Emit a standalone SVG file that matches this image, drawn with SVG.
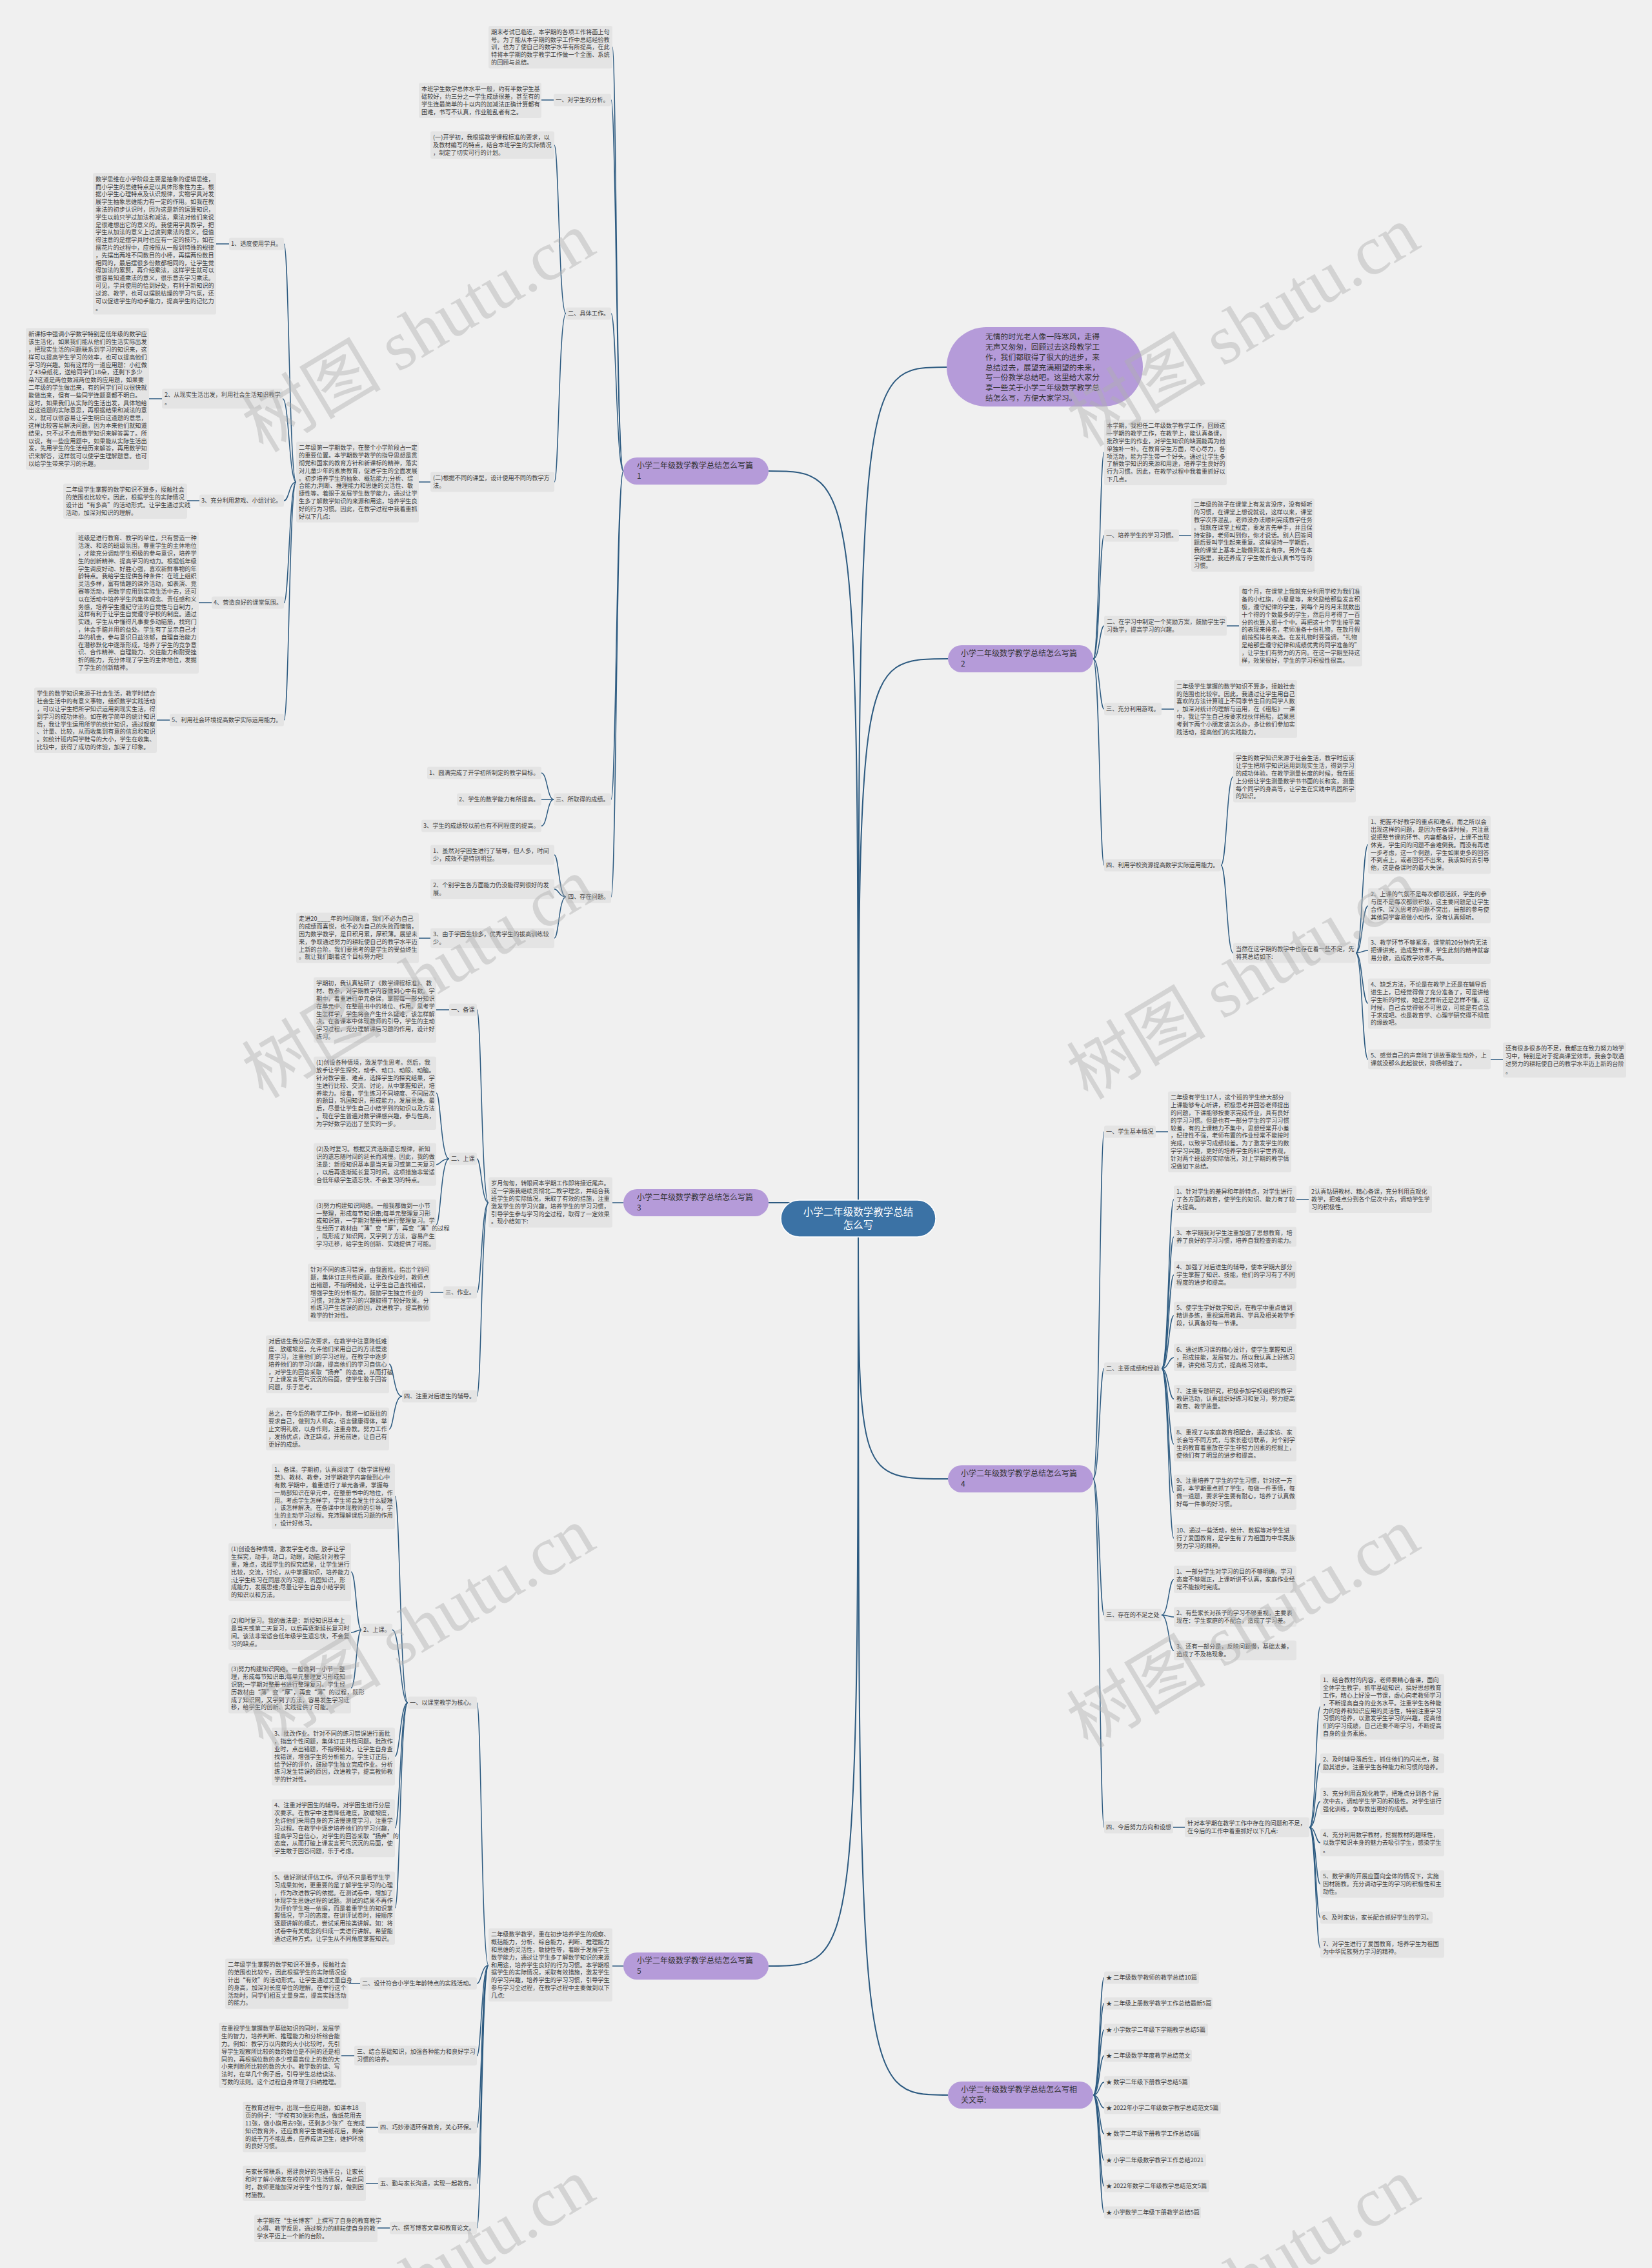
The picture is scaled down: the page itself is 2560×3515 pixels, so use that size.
<svg xmlns="http://www.w3.org/2000/svg" width="2560" height="3515" viewBox="0 0 2560 3515">
<defs><style>
.t{font-family:"Noto Sans CJK SC","Noto Sans",sans-serif;font-size:9.2px;fill:#3c3c3c}
.b{fill:#e4e4e4}
.c{fill:none;stroke:#2c5a80;stroke-width:1.5}
.c2{fill:none;stroke:#2c5a80;stroke-width:2}
.p{fill:#b59bd9}
.pt{font-family:"Noto Sans CJK SC","Noto Sans",sans-serif;font-size:12px;fill:#333}
.it{font-family:"Noto Sans CJK SC","Noto Sans",sans-serif;font-size:11.8px;fill:#333}
.ct{font-family:"Noto Sans CJK SC","Noto Sans",sans-serif;font-size:15.5px;fill:#fff;text-anchor:middle}
.wm{font-family:"Liberation Serif","Noto Sans CJK SC",serif;font-size:108px;fill:#b0b0b0;fill-opacity:.45;text-anchor:middle}
</style></defs>
<rect width="2560" height="3515" fill="#f0f0f0"/>
<g id="connectors">
<path class="c2" d="M1330 1888C1330 730 1330 730 1191 730"/>
<path class="c2" d="M1330 1888C1330 569 1330 569 1467 569"/>
<path class="c2" d="M1330 1888C1330 1021 1330 1021 1469 1021"/>
<path class="c2" d="M1330 1864H1191"/>
<path class="c2" d="M1330 1888C1330 2292 1330 2292 1469 2292"/>
<path class="c2" d="M1330 1888C1330 3047 1330 3047 1191 3047"/>
<path class="c2" d="M1330 1888C1330 3247 1330 3247 1469 3247"/>
<path class="c" d="M966 730C955 730 955 73 949 73"/>
<path class="c" d="M966 730C955 730 955 155 947 155"/>
<path class="c" d="M966 730C955 730 955 486 947 486"/>
<path class="c" d="M966 730C955 730 955 1239 947 1239"/>
<path class="c" d="M966 730C955 730 955 1390 947 1390"/>
<path class="c" d="M858 155H839"/>
<path class="c" d="M877 486C866 486 866 225 859 225"/>
<path class="c" d="M877 486C866 486 866 747 859 747"/>
<path class="c" d="M667 747H649"/>
<path class="c" d="M459 747C448 747 448 378 440 378"/>
<path class="c" d="M459 747C448 747 448 618 438 618"/>
<path class="c" d="M459 747C448 747 448 776 440 776"/>
<path class="c" d="M459 747C448 747 448 934 440 934"/>
<path class="c" d="M459 747C448 747 448 1116 440 1116"/>
<path class="c" d="M355 378H335"/>
<path class="c" d="M251 618H231"/>
<path class="c" d="M309 776H290"/>
<path class="c" d="M328 934H308"/>
<path class="c" d="M263 1116H243"/>
<path class="c" d="M858 1239C848 1239 848 1198 839 1198"/>
<path class="c" d="M858 1239H839"/>
<path class="c" d="M858 1239C848 1239 848 1280 839 1280"/>
<path class="c" d="M877 1390C866 1390 866 1325 859 1325"/>
<path class="c" d="M877 1390C866 1390 866 1378 859 1378"/>
<path class="c" d="M877 1390C866 1390 866 1454 859 1454"/>
<path class="c" d="M667 1454H649"/>
<path class="c" d="M966 1864H949"/>
<path class="c" d="M757 1864C746 1864 746 1565 739 1565"/>
<path class="c" d="M757 1864C746 1864 746 1796 739 1796"/>
<path class="c" d="M757 1864C746 1864 746 2003 739 2003"/>
<path class="c" d="M757 1864C746 1864 746 2164 739 2164"/>
<path class="c" d="M696 1565H676"/>
<path class="c" d="M696 1796C683 1796 683 1694 676 1694"/>
<path class="c" d="M696 1796C683 1796 683 1805 676 1805"/>
<path class="c" d="M696 1796C683 1796 683 1898 676 1898"/>
<path class="c" d="M687 2003H667"/>
<path class="c" d="M623 2164C610 2164 610 2114 603 2114"/>
<path class="c" d="M623 2164C610 2164 610 2215 603 2215"/>
<path class="c" d="M966 3047H949"/>
<path class="c" d="M757 3046C746 3046 746 2639 739 2639"/>
<path class="c" d="M757 3046C746 3046 746 3074 739 3074"/>
<path class="c" d="M757 3046C746 3046 746 3186 739 3186"/>
<path class="c" d="M757 3046C746 3046 746 3297 739 3297"/>
<path class="c" d="M757 3046C746 3046 746 3384 739 3384"/>
<path class="c" d="M757 3046C746 3046 746 3453 739 3453"/>
<path class="c" d="M632 2639C620 2639 620 2319 612 2319"/>
<path class="c" d="M632 2639C620 2639 620 2526 608 2526"/>
<path class="c" d="M632 2639C620 2639 620 2722 612 2722"/>
<path class="c" d="M632 2639C620 2639 620 2833 612 2833"/>
<path class="c" d="M632 2639C620 2639 620 2957 612 2957"/>
<path class="c" d="M560 2526C552 2526 552 2436 544 2436"/>
<path class="c" d="M560 2526C552 2526 552 2530 544 2530"/>
<path class="c" d="M560 2526C552 2526 552 2616 544 2616"/>
<path class="c" d="M558 3074H540"/>
<path class="c" d="M549 3186H529"/>
<path class="c" d="M586 3297H567"/>
<path class="c" d="M586 3384H567"/>
<path class="c" d="M604 3453H585"/>
<path class="c" d="M1694 1021C1704 1021 1704 701 1711 701"/>
<path class="c" d="M1694 1021C1704 1021 1704 830 1711 830"/>
<path class="c" d="M1694 1021C1704 1021 1704 970 1711 970"/>
<path class="c" d="M1694 1021C1704 1021 1704 1099 1711 1099"/>
<path class="c" d="M1694 1021C1704 1021 1704 1341 1711 1341"/>
<path class="c" d="M1827 830H1846"/>
<path class="c" d="M1901 970H1920"/>
<path class="c" d="M1800 1099H1819"/>
<path class="c" d="M1892 1341C1901 1341 1901 1204 1911 1204"/>
<path class="c" d="M1892 1341C1901 1341 1901 1477 1911 1477"/>
<path class="c" d="M2101 1477C2111 1477 2111 1309 2120 1309"/>
<path class="c" d="M2101 1477C2111 1477 2111 1404 2120 1404"/>
<path class="c" d="M2101 1477C2111 1477 2111 1473 2120 1473"/>
<path class="c" d="M2101 1477C2111 1477 2111 1555 2120 1555"/>
<path class="c" d="M2101 1477C2111 1477 2111 1642 2120 1642"/>
<path class="c" d="M2310 1642H2329"/>
<path class="c" d="M1694 2292C1704 2292 1704 1754 1711 1754"/>
<path class="c" d="M1694 2292C1704 2292 1704 2121 1711 2121"/>
<path class="c" d="M1694 2292C1704 2292 1704 2503 1711 2503"/>
<path class="c" d="M1694 2292C1704 2292 1704 2832 1711 2832"/>
<path class="c" d="M1791 1754H1810"/>
<path class="c" d="M1800 2121C1811 2121 1811 1859 1819 1859"/>
<path class="c" d="M1800 2121C1811 2121 1811 1917 1819 1917"/>
<path class="c" d="M1800 2121C1811 2121 1811 1976 1819 1976"/>
<path class="c" d="M1800 2121C1811 2121 1811 2039 1819 2039"/>
<path class="c" d="M1800 2121C1811 2121 1811 2104 1819 2104"/>
<path class="c" d="M1800 2121C1811 2121 1811 2168 1819 2168"/>
<path class="c" d="M1800 2121C1811 2121 1811 2238 1819 2238"/>
<path class="c" d="M1800 2121C1811 2121 1811 2313 1819 2313"/>
<path class="c" d="M1800 2121C1811 2121 1811 2384 1819 2384"/>
<path class="c" d="M2009 1859H2028"/>
<path class="c" d="M1800 2503C1811 2503 1811 2448 1819 2448"/>
<path class="c" d="M1800 2503C1811 2503 1811 2506 1819 2506"/>
<path class="c" d="M1800 2503C1811 2503 1811 2558 1819 2558"/>
<path class="c" d="M1818 2832H1836"/>
<path class="c" d="M2029 2832C2039 2832 2039 2645 2046 2645"/>
<path class="c" d="M2029 2832C2039 2832 2039 2733 2046 2733"/>
<path class="c" d="M2029 2832C2039 2832 2039 2792 2046 2792"/>
<path class="c" d="M2029 2832C2039 2832 2039 2856 2046 2856"/>
<path class="c" d="M2029 2832C2039 2832 2039 2920 2046 2920"/>
<path class="c" d="M2029 2832C2039 2832 2039 2972 2046 2972"/>
<path class="c" d="M2029 2832C2039 2832 2039 3019 2046 3019"/>
<path class="c" d="M1694 3247C1704 3247 1704 3065 1711 3065"/>
<path class="c" d="M1694 3247C1704 3247 1704 3105 1711 3105"/>
<path class="c" d="M1694 3247C1704 3247 1704 3146 1711 3146"/>
<path class="c" d="M1694 3247C1704 3247 1704 3186 1711 3186"/>
<path class="c" d="M1694 3247C1704 3247 1704 3227 1711 3227"/>
<path class="c" d="M1694 3247C1704 3247 1704 3267 1711 3267"/>
<path class="c" d="M1694 3247C1704 3247 1704 3307 1711 3307"/>
<path class="c" d="M1694 3247C1704 3247 1704 3348 1711 3348"/>
<path class="c" d="M1694 3247C1704 3247 1704 3388 1711 3388"/>
<path class="c" d="M1694 3247C1704 3247 1704 3429 1711 3429"/>
</g>
<g id="center"><rect x="1210" y="1860" width="240" height="57" rx="28.5" fill="#3b72a5" stroke="#fff" stroke-width="1.5"/><text class="ct" x="1330" y="1883.5">小学二年级数学教学总结<tspan x="1330" dy="20">怎么写</tspan></text></g>
<g id="intro"><rect class="p" x="1467" y="507" width="304" height="123" rx="61"/><text class="it" x="1527" y="526.2">无情的时光老人像一阵寒风，走得<tspan x="1527" dy="15.8">无声又匆匆，回顾过去这段教学工</tspan><tspan x="1527" dy="15.8">作，我们都取得了很大的进步，来</tspan><tspan x="1527" dy="15.8">总结过去，展望充满期望的未来，</tspan><tspan x="1527" dy="15.8">写一份教学总结吧。这里给大家分</tspan><tspan x="1527" dy="15.8">享一些关于小学二年级数学教学总</tspan><tspan x="1527" dy="15.8">结怎么写，方便大家学习。</tspan></text></g>
<g id="b1"><rect class="p" x="966" y="709" width="225" height="42" rx="21"/><text class="pt" x="987" y="726">小学二年级数学教学总结怎么写篇<tspan x="987" dy="16">1</tspan></text></g>
<g id="b2"><rect class="p" x="1469" y="1000" width="225" height="42" rx="21"/><text class="pt" x="1489" y="1017">小学二年级数学教学总结怎么写篇<tspan x="1489" dy="16">2</tspan></text></g>
<g id="b3"><rect class="p" x="966" y="1843" width="225" height="42" rx="21"/><text class="pt" x="987" y="1860">小学二年级数学教学总结怎么写篇<tspan x="987" dy="16">3</tspan></text></g>
<g id="b4"><rect class="p" x="1469" y="2271" width="225" height="42" rx="21"/><text class="pt" x="1489" y="2288">小学二年级数学教学总结怎么写篇<tspan x="1489" dy="16">4</tspan></text></g>
<g id="b5"><rect class="p" x="966" y="3026" width="225" height="42" rx="21"/><text class="pt" x="987" y="3043">小学二年级数学教学总结怎么写篇<tspan x="987" dy="16">5</tspan></text></g>
<g id="b6"><rect class="p" x="1469" y="3226" width="225" height="42" rx="21"/><text class="pt" x="1489" y="3243">小学二年级数学教学总结怎么写相<tspan x="1489" dy="16">关文章:</tspan></text></g>
<g id="n1a"><rect class="b" x="757" y="40" width="192" height="66.2" rx="3"/><text class="t" x="761" y="52.8">期末考试已临近，本学期的各项工作将画上句<tspan x="761" dy="11.8">号。为了能从本学期的数学工作中总结经验教</tspan><tspan x="761" dy="11.8">训，也为了使自己的数学水平有所提高，在此</tspan><tspan x="761" dy="11.8">特将本学期的数学教学工作做一个全面、系统</tspan><tspan x="761" dy="11.8">的回顾与总结。</tspan></text></g>
<g id="n1b"><rect class="b" x="858" y="145.5" width="89" height="19" rx="3"/><text class="t" x="861" y="158.3">一、对学生的分析。</text></g>
<g id="n1b1"><rect class="b" x="649" y="128.5" width="190" height="54.4" rx="3"/><text class="t" x="653" y="141.3">本班学生数学总体水平一般，约有半数学生基<tspan x="653" dy="11.8">础较好，约三分之一学生成绩很差，甚至有的</tspan><tspan x="653" dy="11.8">学生连最简单的十以内的加减法正确计算都有</tspan><tspan x="653" dy="11.8">困难，书写不认真，作业脏乱者有之。</tspan></text></g>
<g id="n1c"><rect class="b" x="877" y="476.5" width="70" height="19" rx="3"/><text class="t" x="880" y="489.3">二、具体工作。</text></g>
<g id="n1c1"><rect class="b" x="667" y="203.5" width="192" height="42.6" rx="3"/><text class="t" x="671" y="216.3">(一)开学初，我根据教学课程标准的要求，以<tspan x="671" dy="11.8">及教材编写的特点，结合本班学生的实际情况</tspan><tspan x="671" dy="11.8">，制定了切实可行的计划。</tspan></text></g>
<g id="n1c2"><rect class="b" x="667" y="731.5" width="192" height="30.8" rx="3"/><text class="t" x="671" y="744.3">(二)根据不同的课型，设计使用不同的教学方<tspan x="671" dy="11.8">法。</tspan></text></g>
<g id="n1c2a"><rect class="b" x="459" y="684.5" width="190" height="125.2" rx="3"/><text class="t" x="463" y="697.3">二年级第一学期数学，在整个小学阶段占一定<tspan x="463" dy="11.8">的重要位置。本学期数学教学的指导思想是贯</tspan><tspan x="463" dy="11.8">彻党和国家的教育方针和新课标的精神，落实</tspan><tspan x="463" dy="11.8">对儿童少年的素质教育，促进学生的全面发展</tspan><tspan x="463" dy="11.8">。初步培养学生的抽象、概括能力;分析、综</tspan><tspan x="463" dy="11.8">合能力;判断、推理能力和思维的灵活性、敏</tspan><tspan x="463" dy="11.8">捷性等。着眼于发展学生数学能力，通过让学</tspan><tspan x="463" dy="11.8">生多了解数学知识的来源和用途，培养学生良</tspan><tspan x="463" dy="11.8">好的行为习惯。因此，在教学过程中我着重抓</tspan><tspan x="463" dy="11.8">好以下几点:</tspan></text></g>
<g id="n1i1"><rect class="b" x="355" y="368.5" width="85" height="19" rx="3"/><text class="t" x="358" y="381.3">1、适度使用学具。</text></g>
<g id="n1i1a"><rect class="b" x="144" y="268" width="191" height="219.6" rx="3"/><text class="t" x="148" y="280.8">数学思维在小学阶段主要是抽象的逻辑思维，<tspan x="148" dy="11.8">而小学生的思维特点是以具体形象性为主。根</tspan><tspan x="148" dy="11.8">据小学生心理特点及认识规律，实物学具对发</tspan><tspan x="148" dy="11.8">展学生抽象思维能力有一定的作用。如我在教</tspan><tspan x="148" dy="11.8">乘法的初步认识时，因为这是新的运算知识，</tspan><tspan x="148" dy="11.8">学生以前只学过加法和减法，乘法对他们来说</tspan><tspan x="148" dy="11.8">是很难想出它的意义的。我使用学具教学，把</tspan><tspan x="148" dy="11.8">学生从加法的意义上过渡到乘法的意义。但值</tspan><tspan x="148" dy="11.8">得注意的是摆学具时也应有一定的技巧，如在</tspan><tspan x="148" dy="11.8">摆花片的过程中，应按照从一般到特殊的规律</tspan><tspan x="148" dy="11.8">，先摆出两堆不同数目的小棒，再摆两份数目</tspan><tspan x="148" dy="11.8">相同的，最后摆很多份数都相同的，让学生觉</tspan><tspan x="148" dy="11.8">得加法的累赘，再介绍乘法，这样学生就可以</tspan><tspan x="148" dy="11.8">很容易知道乘法的意义，很乐意去学习乘法。</tspan><tspan x="148" dy="11.8">可见，学具使用的恰到好处，有利于新知识的</tspan><tspan x="148" dy="11.8">过渡、教学，也可以摆脱枯燥的学习气氛，还</tspan><tspan x="148" dy="11.8">可以促进学生的动手能力，提高学生的记忆力</tspan><tspan x="148" dy="11.8">。</tspan></text></g>
<g id="n1i2"><rect class="b" x="251" y="602.5" width="187" height="30.8" rx="3"/><text class="t" x="255" y="615.3">2、从现实生活出发，利用社会生活知识教学<tspan x="255" dy="11.8">。</tspan></text></g>
<g id="n1i2a"><rect class="b" x="40" y="508.5" width="191" height="219.6" rx="3"/><text class="t" x="44" y="521.3">新课标中强调小学数学特别是低年级的数学应<tspan x="44" dy="11.8">该生活化，如果我们能从他们的生活实际出发</tspan><tspan x="44" dy="11.8">，把现实生活的问题联系到学习的知识来，这</tspan><tspan x="44" dy="11.8">样可以提高学生学习的效率，也可以提高他们</tspan><tspan x="44" dy="11.8">学习的兴趣。如有这样的一道应用题：小红做</tspan><tspan x="44" dy="11.8">了43朵纸花，送给同学们18朵，还剩下多少</tspan><tspan x="44" dy="11.8">朵?这道是两位数减两位数的应用题，如果要</tspan><tspan x="44" dy="11.8">二年级的学生做出来，有的同学们可以很快就</tspan><tspan x="44" dy="11.8">能做出来，但有一些同学连题意都不明白。</tspan><tspan x="44" dy="11.8">这时，如果我们从实际的生活出发，具体地给</tspan><tspan x="44" dy="11.8">出这道题的实际意思，再根据结果和减法的意</tspan><tspan x="44" dy="11.8">义，就可以很容易让学生明白这道题的意思，</tspan><tspan x="44" dy="11.8">这样比较容易解决问题，因为本来他们就知道</tspan><tspan x="44" dy="11.8">结果，只不过不会用数学知识来解答罢了。所</tspan><tspan x="44" dy="11.8">以说，有一些应用题中，如果能从实际生活出</tspan><tspan x="44" dy="11.8">发，先用学生的生活经历来解答，再用数学知</tspan><tspan x="44" dy="11.8">识来解答，这样就可以使学生理解题意。也可</tspan><tspan x="44" dy="11.8">以给学生带来学习的乐趣。</tspan></text></g>
<g id="n1i3"><rect class="b" x="309" y="766.5" width="131" height="19" rx="3"/><text class="t" x="312" y="779.3">3、充分利用游戏、小组讨论。</text></g>
<g id="n1i3a"><rect class="b" x="98" y="749.5" width="192" height="54.4" rx="3"/><text class="t" x="102" y="762.3">二年级学生掌握的数学知识不算多，接触社会<tspan x="102" dy="11.8">的范围也比较窄。因此，根据学生的实际情况</tspan><tspan x="102" dy="11.8">设计出“有多高”的活动形式。让学生通过实践</tspan><tspan x="102" dy="11.8">活动，加深对知识的理解。</tspan></text></g>
<g id="n1i4"><rect class="b" x="328" y="924.5" width="112" height="19" rx="3"/><text class="t" x="331" y="937.3">4、营造良好的课堂氛围。</text></g>
<g id="n1i4a"><rect class="b" x="117" y="824.5" width="191" height="219.6" rx="3"/><text class="t" x="121" y="837.3">班级是进行教育、教学的单位，只有营造一种<tspan x="121" dy="11.8">活泼、和谐的班级氛围，尊重学生的主体地位</tspan><tspan x="121" dy="11.8">，才能充分调动学生积极的参与意识，培养学</tspan><tspan x="121" dy="11.8">生的创新精神、提高学习的动力。根据低年级</tspan><tspan x="121" dy="11.8">学生调皮好动、好胜心强，喜欢新鲜事物的年</tspan><tspan x="121" dy="11.8">龄特点。我给学生提供各种条件：在班上组织</tspan><tspan x="121" dy="11.8">灵活多样，富有情趣的课外活动，如表演、竞</tspan><tspan x="121" dy="11.8">赛等活动，把数学应用到实际生活中去，还可</tspan><tspan x="121" dy="11.8">以在活动中培养学生的集体观念、责任感和义</tspan><tspan x="121" dy="11.8">务感，培养学生遵纪守法的自觉性与自制力，</tspan><tspan x="121" dy="11.8">这样有利于让学生自觉遵守学校的制度。通过</tspan><tspan x="121" dy="11.8">实践，学生从中懂得凡事要多动脑筋，找窍门</tspan><tspan x="121" dy="11.8">，体会手脑并用的益处。学生有了显示自己才</tspan><tspan x="121" dy="11.8">华的机会，参与意识日益浓郁，自理自治能力</tspan><tspan x="121" dy="11.8">在潜移默化中逐渐形成，培养了学生的竞争意</tspan><tspan x="121" dy="11.8">识、合作精神、自理能力、交往能力和耐受挫</tspan><tspan x="121" dy="11.8">折的能力，充分体现了学生的主体地位，发掘</tspan><tspan x="121" dy="11.8">了学生的创新精神。</tspan></text></g>
<g id="n1i5"><rect class="b" x="263" y="1106.5" width="177" height="19" rx="3"/><text class="t" x="266" y="1119.3">5、利用社会环境提高数学实际运用能力。</text></g>
<g id="n1i5a"><rect class="b" x="53" y="1065.5" width="190" height="101.6" rx="3"/><text class="t" x="57" y="1078.3">学生的数学知识来源于社会生活，教学时结合<tspan x="57" dy="11.8">社会生活中的有意义事物，组织数学实践活动</tspan><tspan x="57" dy="11.8">，可以让学生把所学知识运用到现实生活，得</tspan><tspan x="57" dy="11.8">到学习的成功体验。如在教学简单的统计知识</tspan><tspan x="57" dy="11.8">后，我让学生运用所学的统计知识，通过观察</tspan><tspan x="57" dy="11.8">、计量、比较，从而收集到有意的信息和知识</tspan><tspan x="57" dy="11.8">。如统计班内同学鞋号的大小，学生在收集、</tspan><tspan x="57" dy="11.8">比较中，获得了成功的体验，加深了印象。</tspan></text></g>
<g id="n1d"><rect class="b" x="858" y="1229.5" width="89" height="19" rx="3"/><text class="t" x="861" y="1242.3">三、所取得的成绩。</text></g>
<g id="n1d1"><rect class="b" x="662" y="1188.5" width="177" height="19" rx="3"/><text class="t" x="665" y="1201.3">1、圆满完成了开学初所制定的教学目标。</text></g>
<g id="n1d2"><rect class="b" x="708" y="1229.5" width="131" height="19" rx="3"/><text class="t" x="711" y="1242.3">2、学生的数学能力有所提高。</text></g>
<g id="n1d3"><rect class="b" x="653" y="1270.5" width="186" height="19" rx="3"/><text class="t" x="656" y="1283.3">3、学生的成绩较以前也有不同程度的提高。</text></g>
<g id="n1e"><rect class="b" x="877" y="1380.5" width="70" height="19" rx="3"/><text class="t" x="880" y="1393.3">四、存在问题。</text></g>
<g id="n1e1"><rect class="b" x="667" y="1309.5" width="192" height="30.8" rx="3"/><text class="t" x="671" y="1322.3">1、虽然对学困生进行了辅导，但人多，时间<tspan x="671" dy="11.8">少，成效不是特别明显。</tspan></text></g>
<g id="n1e2"><rect class="b" x="667" y="1362.5" width="192" height="30.8" rx="3"/><text class="t" x="671" y="1375.3">2、个别学生各方面能力仍没能得到很好的发<tspan x="671" dy="11.8">展。</tspan></text></g>
<g id="n1e3"><rect class="b" x="667" y="1438.5" width="192" height="30.8" rx="3"/><text class="t" x="671" y="1451.3">3、由于学困生较多，优秀学生的拔高训练较<tspan x="671" dy="11.8">少。</tspan></text></g>
<g id="n1e3a"><rect class="b" x="459" y="1414.5" width="190" height="78" rx="3"/><text class="t" x="463" y="1427.3">走进20____年的时间隧道，我们不必为自己<tspan x="463" dy="11.8">的成绩而喜悦，也不必为自己的失败而懊恼，</tspan><tspan x="463" dy="11.8">因为数学教学，是日积月累，厚积薄。展望未</tspan><tspan x="463" dy="11.8">来，争取通过努力的耕耘使自己的教学水平迈</tspan><tspan x="463" dy="11.8">上新的台阶。我们要思考的是学生的受益终生</tspan><tspan x="463" dy="11.8">。就让我们朝着这个目标努力吧!</tspan></text></g>
<g id="n3a"><rect class="b" x="757" y="1824.5" width="192" height="78" rx="3"/><text class="t" x="761" y="1837.3">岁月匆匆，转眼间本学期工作即将接近尾声。<tspan x="761" dy="11.8">这一学期我继续贯彻北二教学理念，并结合我</tspan><tspan x="761" dy="11.8">班学生的实际情况，采取了有效的措施，注重</tspan><tspan x="761" dy="11.8">激发学生的学习兴趣，培养学生的学习习惯，</tspan><tspan x="761" dy="11.8">引导学生参与学习的全过程，取得了一定效果</tspan><tspan x="761" dy="11.8">。现小结如下:</tspan></text></g>
<g id="n3b"><rect class="b" x="696" y="1555.5" width="43" height="19" rx="3"/><text class="t" x="699" y="1568.3">一、备课</text></g>
<g id="n3b1"><rect class="b" x="486" y="1514.5" width="190" height="101.6" rx="3"/><text class="t" x="490" y="1527.3">学期初，我认真钻研了《数学课程标准》、教<tspan x="490" dy="11.8">材、教参，对学期教学内容做到心中有数。学</tspan><tspan x="490" dy="11.8">期中，着重进行单元备课，掌握每一部分知识</tspan><tspan x="490" dy="11.8">在单元中、在整册书中的地位、作用。思考学</tspan><tspan x="490" dy="11.8">生怎样学，学生将会产生什么疑难，该怎样解</tspan><tspan x="490" dy="11.8">决。在备课本中体现教师的引导，学生的主动</tspan><tspan x="490" dy="11.8">学习过程，充分理解课后习题的作用，设计好</tspan><tspan x="490" dy="11.8">练习。</tspan></text></g>
<g id="n3c"><rect class="b" x="696" y="1786.5" width="43" height="19" rx="3"/><text class="t" x="699" y="1799.3">二、上课</text></g>
<g id="n3c1"><rect class="b" x="486" y="1637.5" width="190" height="113.4" rx="3"/><text class="t" x="490" y="1650.3">(1)创设各种情境，激发学生思考。然后，我<tspan x="490" dy="11.8">放手让学生探究，动手、动口、动眼、动脑。</tspan><tspan x="490" dy="11.8">针对教学重、难点，选择学生的探究结果，学</tspan><tspan x="490" dy="11.8">生进行比较、交流、讨论，从中掌握知识，培</tspan><tspan x="490" dy="11.8">养能力。接着，学生练习不同坡度、不同层次</tspan><tspan x="490" dy="11.8">的题目，巩固知识，形成能力，发展思维。最</tspan><tspan x="490" dy="11.8">后，尽量让学生自己小结学到的知识以及方法</tspan><tspan x="490" dy="11.8">。现在学生普遍对数学课感兴趣，参与性高，</tspan><tspan x="490" dy="11.8">为学好数学迈出了坚实的一步。</tspan></text></g>
<g id="n3c2"><rect class="b" x="486" y="1771.5" width="190" height="66.2" rx="3"/><text class="t" x="490" y="1784.3">(2)及时复习。根据艾宾浩斯遗忘规律，新知<tspan x="490" dy="11.8">识的遗忘随时间的延长而减慢。因此，我的做</tspan><tspan x="490" dy="11.8">法是：新授知识基本是当天复习或第二天复习</tspan><tspan x="490" dy="11.8">，以后再逐渐延长复习时间。这项措施非常适</tspan><tspan x="490" dy="11.8">合低年级学生遗忘快、不会复习的特点。</tspan></text></g>
<g id="n3c3"><rect class="b" x="486" y="1859" width="190" height="78" rx="3"/><text class="t" x="490" y="1871.8">(3)努力构建知识网络。一般我都做到一小节<tspan x="490" dy="11.8">一整理，形成每节知识串;每单元整理复习形</tspan><tspan x="490" dy="11.8">成知识链，一学期对整册书进行整理复习。学</tspan><tspan x="490" dy="11.8">生经历了教材由“薄”变“厚”，再变“薄”的过程</tspan><tspan x="490" dy="11.8">，既形成了知识网，又学到了方法，容易产生</tspan><tspan x="490" dy="11.8">学习迁移，给学生的创新、实践提供了可能。</tspan></text></g>
<g id="n3d"><rect class="b" x="687" y="1993.5" width="52" height="19" rx="3"/><text class="t" x="690" y="2006.3">三、作业。</text></g>
<g id="n3d1"><rect class="b" x="477" y="1958.5" width="190" height="89.8" rx="3"/><text class="t" x="481" y="1971.3">针对不同的练习错误，由我面批，指出个别问<tspan x="481" dy="11.8">题，集体订正共性问题。批改作业时，教师点</tspan><tspan x="481" dy="11.8">出错题，不指明错处，让学生自己查找错误，</tspan><tspan x="481" dy="11.8">增强学生的分析能力。鼓励学生独立作业的</tspan><tspan x="481" dy="11.8">习惯，对激发学习的兴趣取得了较好效果。分</tspan><tspan x="481" dy="11.8">析练习产生错误的原因，改进教学，提高教师</tspan><tspan x="481" dy="11.8">教学的针对性。</tspan></text></g>
<g id="n3e"><rect class="b" x="623" y="2154.5" width="116" height="19" rx="3"/><text class="t" x="626" y="2167.3">四、注重对后进生的辅导。</text></g>
<g id="n3e1"><rect class="b" x="412" y="2069.5" width="191" height="89.8" rx="3"/><text class="t" x="416" y="2082.3">对后进生我分层次要求，在教学中注意降低难<tspan x="416" dy="11.8">度、放缓坡度，允许他们采用自己的方法慢速</tspan><tspan x="416" dy="11.8">度学习，注重他们的学习过程。在教学中逐步</tspan><tspan x="416" dy="11.8">培养他们的学习兴趣，提高他们的学习自信心</tspan><tspan x="416" dy="11.8">，对学生的回答采取“扬弃”的态度，从而打破</tspan><tspan x="416" dy="11.8">了上课发言死气沉沉的局面，使学生敢于回答</tspan><tspan x="416" dy="11.8">问题，乐于思考。</tspan></text></g>
<g id="n3e2"><rect class="b" x="412" y="2181.5" width="191" height="66.2" rx="3"/><text class="t" x="416" y="2194.3">总之，在今后的教学工作中，我将一如既往的<tspan x="416" dy="11.8">要求自己，做到为人师表，语言健康得体，举</tspan><tspan x="416" dy="11.8">止文明礼貌，以身作则，注重身教。努力工作</tspan><tspan x="416" dy="11.8">，发扬优点，改正缺点，开拓前进，让自己有</tspan><tspan x="416" dy="11.8">更好的成绩。</tspan></text></g>
<g id="n5a"><rect class="b" x="757" y="2988.5" width="192" height="113.4" rx="3"/><text class="t" x="761" y="3001.3">二年级数学教学，重在初步培养学生的观察、<tspan x="761" dy="11.8">概括能力，分析、综合能力，判断、推理能力</tspan><tspan x="761" dy="11.8">和思维的灵活性，敏捷性等，着眼于发展学生</tspan><tspan x="761" dy="11.8">数学能力，通过让学生多了解数学知识的来源</tspan><tspan x="761" dy="11.8">和用途，培养学生良好的行为习惯。本学期根</tspan><tspan x="761" dy="11.8">据学生的实际情况，采取有效措施，激发学生</tspan><tspan x="761" dy="11.8">的学习兴趣，培养学生的学习习惯，引导学生</tspan><tspan x="761" dy="11.8">参与学习全过程，在教学过程中主要做到以下</tspan><tspan x="761" dy="11.8">几点:</tspan></text></g>
<g id="n5b"><rect class="b" x="632" y="2629.5" width="107" height="19" rx="3"/><text class="t" x="635" y="2642.3">一、以课堂教学为核心。</text></g>
<g id="n5b1"><rect class="b" x="421" y="2268.5" width="191" height="101.6" rx="3"/><text class="t" x="425" y="2281.3">1、备课。学期初，认真阅读了《数学课程规<tspan x="425" dy="11.8">范》、教材、教参，对学期教学内容做到心中</tspan><tspan x="425" dy="11.8">有数.学期中，着重进行了单元备课，掌握每</tspan><tspan x="425" dy="11.8">一局部知识在单元中，在整册书中的地位，作</tspan><tspan x="425" dy="11.8">用。考虑学生怎样学，学生将会发生什么疑难</tspan><tspan x="425" dy="11.8">，该怎样解决。在备课中体现教师的引导，学</tspan><tspan x="425" dy="11.8">生的主动学习过程。充沛理解课后习题的作用</tspan><tspan x="425" dy="11.8">，设计好练习。</tspan></text></g>
<g id="n5b2"><rect class="b" x="560" y="2516.5" width="48" height="19" rx="3"/><text class="t" x="563" y="2529.3">2、上课。</text></g>
<g id="n5b2a"><rect class="b" x="354" y="2391.5" width="190" height="89.8" rx="3"/><text class="t" x="358" y="2404.3">(1)创设各种情境，激发学生考虑。放手让学<tspan x="358" dy="11.8">生探究，动手，动口，动眼，动脑;针对教学</tspan><tspan x="358" dy="11.8">重，难点，选择学生的探究结果，让学生进行</tspan><tspan x="358" dy="11.8">比较，交流，讨论，从中掌握知识，培养能力</tspan><tspan x="358" dy="11.8">;让学生练习在同层次的习题，巩固知识，形</tspan><tspan x="358" dy="11.8">成能力，发展思维;尽量让学生自身小结学到</tspan><tspan x="358" dy="11.8">的知识以和方法。</tspan></text></g>
<g id="n5b2b"><rect class="b" x="354" y="2502.5" width="190" height="54.4" rx="3"/><text class="t" x="358" y="2515.3">(2)和时复习。我的做法是：新授知识基本上<tspan x="358" dy="11.8">是当天或第二天复习，以后再逐渐延长复习时</tspan><tspan x="358" dy="11.8">间。该法非常适合低年级学生遗忘快，不会复</tspan><tspan x="358" dy="11.8">习的缺点。</tspan></text></g>
<g id="n5b2c"><rect class="b" x="354" y="2577.5" width="190" height="78" rx="3"/><text class="t" x="358" y="2590.3">(3)努力构建知识网络。一般做到一小节一整<tspan x="358" dy="11.8">理，形成每节知识串;每单元整理复习形成知</tspan><tspan x="358" dy="11.8">识链;一学期对整册书进行整理复习。学生经</tspan><tspan x="358" dy="11.8">历教材由“薄”变“厚”，再变“薄”的过程，既形</tspan><tspan x="358" dy="11.8">成了知识网，又学到了方法，容易发生学习迁</tspan><tspan x="358" dy="11.8">移，给学生的创新、实践提供了可能。</tspan></text></g>
<g id="n5b3"><rect class="b" x="421" y="2677.5" width="191" height="89.8" rx="3"/><text class="t" x="425" y="2690.3">3、批改作业。针对不同的练习错误进行面批<tspan x="425" dy="11.8">，指出个性问题，集体订正共性问题。批改作</tspan><tspan x="425" dy="11.8">业时，点出错题，不指明错处，让学生自身查</tspan><tspan x="425" dy="11.8">找错误，增强学生的分析能力。学生订正后，</tspan><tspan x="425" dy="11.8">给予好的评价，鼓励学生独立完成作业。分析</tspan><tspan x="425" dy="11.8">练习发生错误的原因，改进教学，提高教师教</tspan><tspan x="425" dy="11.8">学的针对性。</tspan></text></g>
<g id="n5b4"><rect class="b" x="421" y="2788.5" width="191" height="89.8" rx="3"/><text class="t" x="425" y="2801.3">4、注重对学困生的辅导。对学困生进行分层<tspan x="425" dy="11.8">次要求。在教学中注意降低难度，放缓坡度，</tspan><tspan x="425" dy="11.8">允许他们采用自身的方法慢速度学习，注重学</tspan><tspan x="425" dy="11.8">习过程。在教学中逐步培养他们的学习兴趣，</tspan><tspan x="425" dy="11.8">提高学习自信心，对学生的回答采取“扬弃”的</tspan><tspan x="425" dy="11.8">态度，从而打破上课发言死气沉沉的局面，使</tspan><tspan x="425" dy="11.8">学生敢于回答问题，乐于考虑。</tspan></text></g>
<g id="n5b5"><rect class="b" x="421" y="2900.5" width="191" height="113.4" rx="3"/><text class="t" x="425" y="2913.3">5、做好测试评估工作。评估不只是看学生学<tspan x="425" dy="11.8">习成果如何，更重要的是了解学生学习的心理</tspan><tspan x="425" dy="11.8">，作为改进教学的依据。在测试卷中，增加了</tspan><tspan x="425" dy="11.8">体现学生思维过程的试题。测试的结果不再作</tspan><tspan x="425" dy="11.8">为评价学生唯一依据，而是着重学生的知识掌</tspan><tspan x="425" dy="11.8">握情况，学习的态度。在讲评试卷时，按顺序</tspan><tspan x="425" dy="11.8">逐题讲解的模式，尝试采用按类讲解。如：将</tspan><tspan x="425" dy="11.8">试卷中有关概念的归成一类进行讲解。希望能</tspan><tspan x="425" dy="11.8">通过这种方式，让学生从不同角度掌握知识。</tspan></text></g>
<g id="n5c"><rect class="b" x="558" y="3064.5" width="181" height="19" rx="3"/><text class="t" x="561" y="3077.3">二、设计符合小学生年龄特点的实践活动。</text></g>
<g id="n5c1"><rect class="b" x="349" y="3035.5" width="191" height="78" rx="3"/><text class="t" x="353" y="3048.3">二年级学生掌握的数学知识不算多，接触社会<tspan x="353" dy="11.8">的范围也比较窄，因此根据学生的实际情况设</tspan><tspan x="353" dy="11.8">计出“有效”的活动形式。让学生通过丈量自身</tspan><tspan x="353" dy="11.8">的身高，加深对长度单位的理解。在举行这个</tspan><tspan x="353" dy="11.8">活动时，同学们相互丈量身高，提高实践活动</tspan><tspan x="353" dy="11.8">的能力。</tspan></text></g>
<g id="n5d"><rect class="b" x="549" y="3170.5" width="190" height="30.8" rx="3"/><text class="t" x="553" y="3183.3">三、结合基础知识，加强各种能力和良好学习<tspan x="553" dy="11.8">习惯的培养。</tspan></text></g>
<g id="n5d1"><rect class="b" x="339" y="3134.5" width="190" height="101.6" rx="3"/><text class="t" x="343" y="3147.3">在重视学生掌握数学基础知识的同时，发展学<tspan x="343" dy="11.8">生的智力，培养判断、推理能力和分析综合能</tspan><tspan x="343" dy="11.8">力。例如：教学万以内数的大小比较时，先引</tspan><tspan x="343" dy="11.8">导学生观察所比较的数的数位是不同的还是相</tspan><tspan x="343" dy="11.8">同的，再根据位数的多少或最高位上的数的大</tspan><tspan x="343" dy="11.8">小来判断所比较的数的大小。教学数的读、写</tspan><tspan x="343" dy="11.8">法时，在举几个例子后，引导学生总结读法、</tspan><tspan x="343" dy="11.8">写数的法则。这个过程自身体现了归纳推理。</tspan></text></g>
<g id="n5e"><rect class="b" x="586" y="3287.5" width="153" height="19" rx="3"/><text class="t" x="589" y="3300.3">四、巧妙渗透环保教育，关心环保。</text></g>
<g id="n5e1"><rect class="b" x="376" y="3257.5" width="191" height="78" rx="3"/><text class="t" x="380" y="3270.3">在教育过程中，出现一些应用题，如课本18<tspan x="380" dy="11.8">页的例子：“学校有30张彩色纸，做纸花用去</tspan><tspan x="380" dy="11.8">11张，做小旗用去9张，还剩多少张?”在完成</tspan><tspan x="380" dy="11.8">知识教育外，还应教育学生做完纸花后，剩余</tspan><tspan x="380" dy="11.8">的纸千万不能乱丢，应养成讲卫生，维护环境</tspan><tspan x="380" dy="11.8">的良好习惯。</tspan></text></g>
<g id="n5f"><rect class="b" x="586" y="3374.5" width="153" height="19" rx="3"/><text class="t" x="589" y="3387.3">五、勤与家长沟通，实现一起教育。</text></g>
<g id="n5f1"><rect class="b" x="376" y="3356.5" width="191" height="54.4" rx="3"/><text class="t" x="380" y="3369.3">与家长常联系，搭建良好的沟通平台，让家长<tspan x="380" dy="11.8">和时了解小朋友在校的学习生活情况，与此同</tspan><tspan x="380" dy="11.8">时，教师更能加深对学生个性的了解，做到因</tspan><tspan x="380" dy="11.8">材施教。</tspan></text></g>
<g id="n5g"><rect class="b" x="604" y="3443.5" width="135" height="19" rx="3"/><text class="t" x="607" y="3456.3">六、撰写博客文章和教育论文。</text></g>
<g id="n5g1"><rect class="b" x="394" y="3432.5" width="191" height="42.6" rx="3"/><text class="t" x="398" y="3445.3">本学期在“生长博客”上撰写了自身的教育教学<tspan x="398" dy="11.8">心得、教学反思，通过努力的耕耘使自身的教</tspan><tspan x="398" dy="11.8">学水平迈上一个新的台阶。</tspan></text></g>
<g id="n2a"><rect class="b" x="1711" y="650.5" width="190" height="101.6" rx="3"/><text class="t" x="1715" y="663.3">本学期，我担任二年级数学教学工作，回顾这<tspan x="1715" dy="11.8">一学期的教学工作，在教学上，能认真备课，</tspan><tspan x="1715" dy="11.8">批改学生的作业，对学生知识的缺漏能再为他</tspan><tspan x="1715" dy="11.8">单独补一补。在教育学生方面，尽心尽力，各</tspan><tspan x="1715" dy="11.8">项活动，能为学生带一个好头。通过让学生多</tspan><tspan x="1715" dy="11.8">了解数学知识的来源和用途，培养学生良好的</tspan><tspan x="1715" dy="11.8">行为习惯。因此，在教学过程中我着重抓好以</tspan><tspan x="1715" dy="11.8">下几点。</tspan></text></g>
<g id="n2b"><rect class="b" x="1711" y="820.5" width="116" height="19" rx="3"/><text class="t" x="1714" y="833.3">一、培养学生的学习习惯。</text></g>
<g id="n2b1"><rect class="b" x="1846" y="772.5" width="191" height="113.4" rx="3"/><text class="t" x="1850" y="785.3">二年级的孩子在课堂上有发言没序，没有倾听<tspan x="1850" dy="11.8">的习惯，在课堂上想说就说，这样以来，课堂</tspan><tspan x="1850" dy="11.8">教学次序混乱，老师没办法顺利完成教学任务</tspan><tspan x="1850" dy="11.8">。我就在课堂上规定，要发言先举手，并且保</tspan><tspan x="1850" dy="11.8">持安静，老师叫到你，你才说话。别人回答问</tspan><tspan x="1850" dy="11.8">题后要叫学生起来重复。这样坚持一学期后，</tspan><tspan x="1850" dy="11.8">我的课堂上基本上能做到发言有序。另外在本</tspan><tspan x="1850" dy="11.8">学期里，我还养成了学生做作业认真书写等的</tspan><tspan x="1850" dy="11.8">习惯。</tspan></text></g>
<g id="n2c"><rect class="b" x="1711" y="954.5" width="190" height="30.8" rx="3"/><text class="t" x="1715" y="967.3">二、在学习中制定一个奖励方案，鼓励学生学<tspan x="1715" dy="11.8">习数学，提高学习的兴趣。</tspan></text></g>
<g id="n2c1"><rect class="b" x="1920" y="907.5" width="191" height="125.2" rx="3"/><text class="t" x="1924" y="920.3">每个月，在课堂上我就充分利用学校为我们准<tspan x="1924" dy="11.8">备的小红旗，小星星等，来奖励给那些发言积</tspan><tspan x="1924" dy="11.8">极，遵守纪律的学生，到每个月的月末就数出</tspan><tspan x="1924" dy="11.8">十个得的个数最多的学生，然后月考得了一百</tspan><tspan x="1924" dy="11.8">分的也算入那十个中。再把这十个学生按平常</tspan><tspan x="1924" dy="11.8">的表现来排名，老师准备十份礼物，在放月假</tspan><tspan x="1924" dy="11.8">前按照排名来选。在发礼物时要强调，“礼物</tspan><tspan x="1924" dy="11.8">是给那些遵守纪律和成绩优秀的同学准备的”</tspan><tspan x="1924" dy="11.8">，让学生们有努力的方向。在这一学期坚持这</tspan><tspan x="1924" dy="11.8">样，效果很好，学生的学习积极性很高。</tspan></text></g>
<g id="n2d"><rect class="b" x="1711" y="1089.5" width="89" height="19" rx="3"/><text class="t" x="1714" y="1102.3">三、充分利用游戏。</text></g>
<g id="n2d1"><rect class="b" x="1819" y="1054" width="191" height="89.8" rx="3"/><text class="t" x="1823" y="1066.8">二年级学生掌握的数学知识不算多，接触社会<tspan x="1823" dy="11.8">的范围也比较窄。因此，我通过让学生用自己</tspan><tspan x="1823" dy="11.8">喜欢的方法计算班上不同季节生日的同学人数</tspan><tspan x="1823" dy="11.8">，加深对统计的理解与运用，在《租船》一课</tspan><tspan x="1823" dy="11.8">中，我让学生自己按要求找伙伴搭船，结果思</tspan><tspan x="1823" dy="11.8">考剩下两个小朋友该怎么办，多让他们参加实</tspan><tspan x="1823" dy="11.8">践活动，提高他们的实践能力。</tspan></text></g>
<g id="n2e"><rect class="b" x="1711" y="1331.5" width="181" height="19" rx="3"/><text class="t" x="1714" y="1344.3">四、利用学校资源提高数学实际运用能力。</text></g>
<g id="n2e1"><rect class="b" x="1911" y="1165.5" width="190" height="78" rx="3"/><text class="t" x="1915" y="1178.3">学生的数学知识来源于社会生活，教学时应该<tspan x="1915" dy="11.8">让学生把所学知识运用到现实生活，得到学习</tspan><tspan x="1915" dy="11.8">的成功体验。在教学测量长度的时候，我在班</tspan><tspan x="1915" dy="11.8">上分组让学生测量数学书书面的长和宽，测量</tspan><tspan x="1915" dy="11.8">每个同学的身高等，让学生在实践中巩固所学</tspan><tspan x="1915" dy="11.8">的知识。</tspan></text></g>
<g id="n2e2"><rect class="b" x="1911" y="1461.5" width="190" height="30.8" rx="3"/><text class="t" x="1915" y="1474.3">当然在这学期的教学中也存在着一些不足，先<tspan x="1915" dy="11.8">将其总结如下:</tspan></text></g>
<g id="n2f1"><rect class="b" x="2120" y="1264.5" width="190" height="89.8" rx="3"/><text class="t" x="2124" y="1277.3">1、把握不好教学的重点和难点，而之所以会<tspan x="2124" dy="11.8">出现这样的问题，是因为在备课时候，只注意</tspan><tspan x="2124" dy="11.8">说把整节课的环节、内容都备好，上课不出现</tspan><tspan x="2124" dy="11.8">休克，学生问的问题不会难倒我。而没有再进</tspan><tspan x="2124" dy="11.8">一步考虑，这一个例题，学生如果更多的回答</tspan><tspan x="2124" dy="11.8">不到点上，或者回答不出来，我该如何去引导</tspan><tspan x="2124" dy="11.8">他，这是备课时的最大失误。</tspan></text></g>
<g id="n2f2"><rect class="b" x="2120" y="1376.5" width="190" height="54.4" rx="3"/><text class="t" x="2124" y="1389.3">2、上课的气氛不是每次都很活跃，学生的参<tspan x="2124" dy="11.8">与度不是每次都很积极，这主要问题是让学生</tspan><tspan x="2124" dy="11.8">合作、深入思考的问题不突出，局部的参与使</tspan><tspan x="2124" dy="11.8">其他同学容易做小动作，没有认真倾听。</tspan></text></g>
<g id="n2f3"><rect class="b" x="2120" y="1451.5" width="190" height="42.6" rx="3"/><text class="t" x="2124" y="1464.3">3、教学环节不够紧凑，课堂前20分钟内无法<tspan x="2124" dy="11.8">把课讲完，造成整节课，学生此刻的精神就容</tspan><tspan x="2124" dy="11.8">易分散，造成教学效率不高。</tspan></text></g>
<g id="n2f4"><rect class="b" x="2120" y="1516.5" width="190" height="78" rx="3"/><text class="t" x="2124" y="1529.3">4、缺乏方法，不论是在教学上还是在辅导后<tspan x="2124" dy="11.8">进生上，已经觉得做了充分准备了，可是讲给</tspan><tspan x="2124" dy="11.8">学生听的时候，她是怎样听还是怎样不懂。这</tspan><tspan x="2124" dy="11.8">时候，自己会觉得很不可思议，可能是有点急</tspan><tspan x="2124" dy="11.8">于求成吧。也是教育学、心理学研究得不彻底</tspan><tspan x="2124" dy="11.8">的缘故吧。</tspan></text></g>
<g id="n2f5"><rect class="b" x="2120" y="1626.5" width="190" height="30.8" rx="3"/><text class="t" x="2124" y="1639.3">5、感觉自己的声音除了讲故事能生动外，上<tspan x="2124" dy="11.8">课就没那么此起彼伏，抑扬顿挫了。</tspan></text></g>
<g id="n2f5a"><rect class="b" x="2329" y="1615.5" width="191" height="54.4" rx="3"/><text class="t" x="2333" y="1628.3">还有很多很多的不足，我都正在致力努力地学<tspan x="2333" dy="11.8">习中，特别是对于提高课堂效率，我会争取通</tspan><tspan x="2333" dy="11.8">过努力的耕耘使自己的教学水平迈上新的台阶</tspan><tspan x="2333" dy="11.8">。</tspan></text></g>
<g id="n4a"><rect class="b" x="1711" y="1744.5" width="80" height="19" rx="3"/><text class="t" x="1714" y="1757.3">一、学生基本情况</text></g>
<g id="n4a1"><rect class="b" x="1810" y="1691.5" width="191" height="125.2" rx="3"/><text class="t" x="1814" y="1704.3">二年级有学生17人，这个班的学生绝大部分<tspan x="1814" dy="11.8">上课能够专心听讲，积极思考并回答老师提出</tspan><tspan x="1814" dy="11.8">的问题，下课能够按要求完成作业，具有良好</tspan><tspan x="1814" dy="11.8">的学习习惯。但是也有一部分学生的学习习惯</tspan><tspan x="1814" dy="11.8">较差，有的上课精力不集中，思想经常开小差</tspan><tspan x="1814" dy="11.8">，纪律性不强，老师布置的作业经常不能按时</tspan><tspan x="1814" dy="11.8">完成，以致学习成绩较差。为了激发学生的数</tspan><tspan x="1814" dy="11.8">学学习兴趣，更好的培养学生的科学世界观，</tspan><tspan x="1814" dy="11.8">针对两个班级的实际情况，对上学期的教学情</tspan><tspan x="1814" dy="11.8">况做如下总结。</tspan></text></g>
<g id="n4b"><rect class="b" x="1711" y="2111.5" width="89" height="19" rx="3"/><text class="t" x="1714" y="2124.3">二、主要成绩和经验</text></g>
<g id="n4b1"><rect class="b" x="1819" y="1837.5" width="190" height="42.6" rx="3"/><text class="t" x="1823" y="1850.3">1、针对学生的差异和年龄特点，对学生进行<tspan x="1823" dy="11.8">了各方面的教育，使学生的知识、能力有了较</tspan><tspan x="1823" dy="11.8">大提高。</tspan></text></g>
<g id="n4b1a"><rect class="b" x="2028" y="1837.5" width="191" height="42.6" rx="3"/><text class="t" x="2032" y="1850.3">2认真钻研教材、精心备课，充分利用直观化<tspan x="2032" dy="11.8">教学，把难点分到各个层次中去，调动学生学</tspan><tspan x="2032" dy="11.8">习的积极性。</tspan></text></g>
<g id="n4b3"><rect class="b" x="1819" y="1901.5" width="190" height="30.8" rx="3"/><text class="t" x="1823" y="1914.3">3、本学期我对学生注重加强了思想教育，培<tspan x="1823" dy="11.8">养了良好的学习习惯，培养自我检查的能力。</tspan></text></g>
<g id="n4b4"><rect class="b" x="1819" y="1954.5" width="190" height="42.6" rx="3"/><text class="t" x="1823" y="1967.3">4、加强了对后进生的辅导，使本学期大部分<tspan x="1823" dy="11.8">学生掌握了知识、技能，他们的学习有了不同</tspan><tspan x="1823" dy="11.8">程度的进步和提高。</tspan></text></g>
<g id="n4b5"><rect class="b" x="1819" y="2017.5" width="190" height="42.6" rx="3"/><text class="t" x="1823" y="2030.3">5、使学生学好数学知识，在教学中重点做到<tspan x="1823" dy="11.8">精讲多练，重视运用教具、学具及相关教学手</tspan><tspan x="1823" dy="11.8">段，认真备好每一节课。</tspan></text></g>
<g id="n4b6"><rect class="b" x="1819" y="2082.5" width="190" height="42.6" rx="3"/><text class="t" x="1823" y="2095.3">6、通过练习课的精心设计，使学生掌握知识<tspan x="1823" dy="11.8">，形成技能，发展智力。所以我认真上好练习</tspan><tspan x="1823" dy="11.8">课，讲究练习方式，提高练习效率。</tspan></text></g>
<g id="n4b7"><rect class="b" x="1819" y="2146.5" width="190" height="42.6" rx="3"/><text class="t" x="1823" y="2159.3">7、注重专题研究，积极参加学校组织的教学<tspan x="1823" dy="11.8">教研活动，认真组织好练习和复习，努力提高</tspan><tspan x="1823" dy="11.8">教育、教学质量。</tspan></text></g>
<g id="n4b8"><rect class="b" x="1819" y="2210.5" width="190" height="54.4" rx="3"/><text class="t" x="1823" y="2223.3">8、重视了与家庭教育相配合，通过家访、家<tspan x="1823" dy="11.8">长会等不同方式，与家长密切联系，对个别学</tspan><tspan x="1823" dy="11.8">生的教育着重放在学生非智力因素的挖掘上，</tspan><tspan x="1823" dy="11.8">使他们有了明显的进步和提高。</tspan></text></g>
<g id="n4b9"><rect class="b" x="1819" y="2285.5" width="190" height="54.4" rx="3"/><text class="t" x="1823" y="2298.3">9、注重培养了学生的学生习惯，针对这一方<tspan x="1823" dy="11.8">面，本学期重点抓了学生，每做一件事情，每</tspan><tspan x="1823" dy="11.8">做一道题，要求学生要有耐心，培养了认真做</tspan><tspan x="1823" dy="11.8">好每一件事的好习惯。</tspan></text></g>
<g id="n4b10"><rect class="b" x="1819" y="2362.5" width="190" height="42.6" rx="3"/><text class="t" x="1823" y="2375.3">10、通过一些活动，统计、数据等对学生进<tspan x="1823" dy="11.8">行了爱国教育，是学生有了为祖国为中华民族</tspan><tspan x="1823" dy="11.8">努力学习的精神。</tspan></text></g>
<g id="n4c"><rect class="b" x="1711" y="2493.5" width="89" height="19" rx="3"/><text class="t" x="1714" y="2506.3">三、存在的不足之处</text></g>
<g id="n4c1"><rect class="b" x="1819" y="2426.5" width="190" height="42.6" rx="3"/><text class="t" x="1823" y="2439.3">1、一部分学生对学习的目的不够明确，学习<tspan x="1823" dy="11.8">态度不够端正，上课听讲不认真，家庭作业经</tspan><tspan x="1823" dy="11.8">常不能按时完成。</tspan></text></g>
<g id="n4c2"><rect class="b" x="1819" y="2490.5" width="190" height="30.8" rx="3"/><text class="t" x="1823" y="2503.3">2、有些家长对孩子的学习不够重视，主要表<tspan x="1823" dy="11.8">现在：学生家庭的不配合，造成了学习差。</tspan></text></g>
<g id="n4c3"><rect class="b" x="1819" y="2542.5" width="190" height="30.8" rx="3"/><text class="t" x="1823" y="2555.3">3、还有一部分是，反映问题慢，基础太差，<tspan x="1823" dy="11.8">造成了不及格现象。</tspan></text></g>
<g id="n4d"><rect class="b" x="1711" y="2822.5" width="107" height="19" rx="3"/><text class="t" x="1714" y="2835.3">四、今后努力方向和设想</text></g>
<g id="n4d1"><rect class="b" x="1836" y="2816.5" width="193" height="30.8" rx="3"/><text class="t" x="1840" y="2829.3">针对本学期在教学工作中存在的问题和不足，<tspan x="1840" dy="11.8">在今后的工作中着重抓好以下几点:</tspan></text></g>
<g id="n4e1"><rect class="b" x="2046" y="2594.5" width="192" height="101.6" rx="3"/><text class="t" x="2050" y="2607.3">1、结合教材的内容，老师要精心备课，面向<tspan x="2050" dy="11.8">全体学生教学，抓牢基础知识，搞好思想教育</tspan><tspan x="2050" dy="11.8">工作，精心上好没一节课，虚心向老教师学习</tspan><tspan x="2050" dy="11.8">，不断提高自身的业务水平。注重学生各种能</tspan><tspan x="2050" dy="11.8">力的培养和知识应用的灵活性，特别注重学习</tspan><tspan x="2050" dy="11.8">习惯的培养，以激发学生学习的兴趣，提高他</tspan><tspan x="2050" dy="11.8">们的学习成绩，自己还要不断学习，不断提高</tspan><tspan x="2050" dy="11.8">自身的业务素质。</tspan></text></g>
<g id="n4e2"><rect class="b" x="2046" y="2717.5" width="192" height="30.8" rx="3"/><text class="t" x="2050" y="2730.3">2、及时辅导落后生，抓住他们的闪光点，鼓<tspan x="2050" dy="11.8">励其进步。注重学生各种能力和习惯的培养。</tspan></text></g>
<g id="n4e3"><rect class="b" x="2046" y="2770.5" width="192" height="42.6" rx="3"/><text class="t" x="2050" y="2783.3">3、充分利用直观化教学，把难点分到各个层<tspan x="2050" dy="11.8">次中去，调动学生学习的积极性。对学生进行</tspan><tspan x="2050" dy="11.8">强化训练，争取教出更好的成绩。</tspan></text></g>
<g id="n4e4"><rect class="b" x="2046" y="2834.5" width="192" height="42.6" rx="3"/><text class="t" x="2050" y="2847.3">4、充分利用数学教材，挖掘教材的趣味性，<tspan x="2050" dy="11.8">以数学知识本身的魅力去吸引学生，感染学生</tspan><tspan x="2050" dy="11.8">。</tspan></text></g>
<g id="n4e5"><rect class="b" x="2046" y="2898.5" width="192" height="42.6" rx="3"/><text class="t" x="2050" y="2911.3">5、数学课的开展应面向全体的情况下，实施<tspan x="2050" dy="11.8">因材施教。充分调动学生的学习的积极性和主</tspan><tspan x="2050" dy="11.8">动性。</tspan></text></g>
<g id="n4e6"><rect class="b" x="2046" y="2962.5" width="174" height="19" rx="3"/><text class="t" x="2049" y="2975.3">6、及时家访，家长配合抓好学生的学习。</text></g>
<g id="n4e7"><rect class="b" x="2046" y="3003.5" width="192" height="30.8" rx="3"/><text class="t" x="2050" y="3016.3">7、对学生进行了爱国教育，培养学生为祖国<tspan x="2050" dy="11.8">为中华民族努力学习的精神。</tspan></text></g>
<g id="r1"><rect class="b" x="1711" y="3055.5" width="147" height="19" rx="3"/><text class="t" x="1714" y="3068.3">★ 二年级数学教师的教学总结10篇</text></g>
<g id="r2"><rect class="b" x="1711" y="3095.5" width="168" height="19" rx="3"/><text class="t" x="1714" y="3108.3">★ 二年级上册数学教学工作总结最新5篇</text></g>
<g id="r3"><rect class="b" x="1711" y="3136.5" width="161" height="19" rx="3"/><text class="t" x="1714" y="3149.3">★ 小学数学二年级下学期教学总结5篇</text></g>
<g id="r4"><rect class="b" x="1711" y="3176.5" width="136" height="19" rx="3"/><text class="t" x="1714" y="3189.3">★ 二年级数学年度教学总结范文</text></g>
<g id="r5"><rect class="b" x="1711" y="3217.5" width="133" height="19" rx="3"/><text class="t" x="1714" y="3230.3">★ 数学二年级下册教学总结5篇</text></g>
<g id="r6"><rect class="b" x="1711" y="3257.5" width="181" height="19" rx="3"/><text class="t" x="1714" y="3270.3">★ 2022年小学二年级数学教学总结范文5篇</text></g>
<g id="r7"><rect class="b" x="1711" y="3297.5" width="150" height="19" rx="3"/><text class="t" x="1714" y="3310.3">★ 数学二年级下册教学工作总结6篇</text></g>
<g id="r8"><rect class="b" x="1711" y="3338.5" width="158" height="19" rx="3"/><text class="t" x="1714" y="3351.3">★ 小学二年级数学教学工作总结2021</text></g>
<g id="r9"><rect class="b" x="1711" y="3378.5" width="163" height="19" rx="3"/><text class="t" x="1714" y="3391.3">★ 2022年数学二年级教学总结范文5篇</text></g>
<g id="r10"><rect class="b" x="1711" y="3419.5" width="150" height="19" rx="3"/><text class="t" x="1714" y="3432.3">★ 小学数学二年级下册教学总结5篇</text></g>
<g id="watermarks">
<text class="wm" x="648" y="552" transform="rotate(-31 648 514)">树图 shutu.cn</text>
<text class="wm" x="1926" y="543" transform="rotate(-31 1926 505)">树图 shutu.cn</text>
<text class="wm" x="648" y="1553" transform="rotate(-31 648 1515)">树图 shutu.cn</text>
<text class="wm" x="1926" y="1555" transform="rotate(-31 1926 1517)">树图 shutu.cn</text>
<text class="wm" x="648" y="2559" transform="rotate(-31 648 2521)">树图 shutu.cn</text>
<text class="wm" x="1926" y="2560" transform="rotate(-31 1926 2522)">树图 shutu.cn</text>
<text class="wm" x="648" y="3568" transform="rotate(-31 648 3530)">树图 shutu.cn</text>
<text class="wm" x="1926" y="3568" transform="rotate(-31 1926 3530)">树图 shutu.cn</text>
</g>
</svg>
